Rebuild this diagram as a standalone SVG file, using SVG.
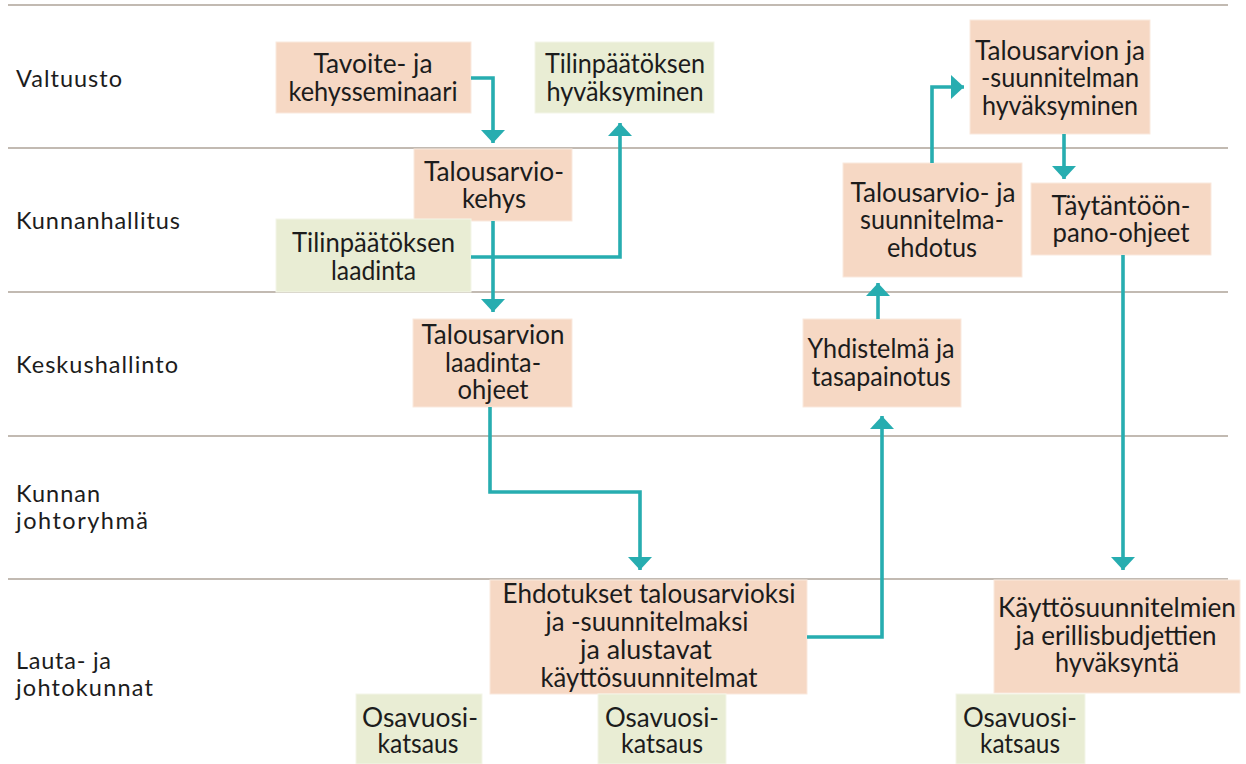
<svg xmlns="http://www.w3.org/2000/svg" width="1246" height="764" viewBox="0 0 1246 764">
  <style>
    .lane { stroke: #c2bab2; stroke-width: 1.8; }
    .lbl { font-family: Lato, "Open Sans", sans-serif; font-size: 23.5px; fill: #1c1c1c; }
    .t { font-family: Lato, "Open Sans", sans-serif; font-size: 26px; fill: #1c1c1c; text-anchor: middle; }
    .peach { fill: #f6d8c4; stroke: #fae9de; stroke-width: 1; }
    .green { fill: #e9edd4; stroke: #f3f5e8; stroke-width: 1; }
    .conn { fill: none; stroke: #27adb0; stroke-width: 3.6; stroke-linejoin: miter; }
  </style>
  <defs>
    <marker id="arrow" markerUnits="userSpaceOnUse" markerWidth="14" markerHeight="26" refX="13" refY="12" orient="auto">
      <path d="M0,0 L13,12 L0,24 Z" fill="#27adb0"/>
    </marker>
  </defs>
  <rect width="1246" height="764" fill="#ffffff"/>

  <!-- swimlane separators -->
  <g id="lanes">
    <line class="lane" x1="8" y1="5" x2="1228" y2="5"/>
    <line class="lane" x1="8" y1="148" x2="1228" y2="148"/>
    <line class="lane" x1="8" y1="292" x2="1228" y2="292"/>
    <line class="lane" x1="8" y1="436" x2="1228" y2="436"/>
    <line class="lane" x1="8" y1="579" x2="1228" y2="579"/>
  </g>

  <!-- lane titles -->
  <g id="lane-labels">
    <text class="lbl" x="16" y="87" textLength="106" lengthAdjust="spacing">Valtuusto</text>
    <text class="lbl" x="16" y="229" textLength="164" lengthAdjust="spacing">Kunnanhallitus</text>
    <text class="lbl" x="16" y="373" textLength="162" lengthAdjust="spacing">Keskushallinto</text>
    <text class="lbl" x="16" y="502" textLength="84" lengthAdjust="spacing">Kunnan</text>
    <text class="lbl" x="16" y="529" textLength="132" lengthAdjust="spacing">johtoryhmä</text>
    <text class="lbl" x="16" y="669" textLength="95" lengthAdjust="spacing">Lauta- ja</text>
    <text class="lbl" x="16" y="696" textLength="137" lengthAdjust="spacing">johtokunnat</text>
  </g>

  <!-- process steps -->
  <g id="tavoite">
    <rect class="peach" x="276" y="42" width="195" height="71"/>
    <text class="t" x="373" y="73" textLength="119" lengthAdjust="spacingAndGlyphs">Tavoite- ja</text>
    <text class="t" x="373" y="101" textLength="169" lengthAdjust="spacingAndGlyphs">kehysseminaari</text>
  </g>
  <g id="tp-hyvaksyminen">
    <rect class="green" x="535" y="42" width="179" height="71"/>
    <text class="t" x="625" y="73" textLength="160" lengthAdjust="spacingAndGlyphs">Tilinpäätöksen</text>
    <text class="t" x="625" y="101" textLength="157" lengthAdjust="spacingAndGlyphs">hyväksyminen</text>
  </g>
  <g id="ta-hyvaksyminen">
    <rect class="peach" x="970" y="20" width="180" height="114"/>
    <text class="t" x="1060" y="60" textLength="170" lengthAdjust="spacingAndGlyphs">Talousarvion ja</text>
    <text class="t" x="1060" y="87" textLength="158" lengthAdjust="spacingAndGlyphs">-suunnitelman</text>
    <text class="t" x="1060" y="115" textLength="156" lengthAdjust="spacingAndGlyphs">hyväksyminen</text>
  </g>
  <g id="kehys">
    <rect class="peach" x="414" y="149" width="158" height="72"/>
    <text class="t" x="494" y="181" textLength="140" lengthAdjust="spacingAndGlyphs">Talousarvio-</text>
    <text class="t" x="494" y="208" textLength="64" lengthAdjust="spacingAndGlyphs">kehys</text>
  </g>
  <g id="tp-laadinta">
    <rect class="green" x="276" y="219" width="195" height="73"/>
    <text class="t" x="373.5" y="252" textLength="163" lengthAdjust="spacingAndGlyphs">Tilinpäätöksen</text>
    <text class="t" x="373.5" y="280" textLength="85" lengthAdjust="spacingAndGlyphs">laadinta</text>
  </g>
  <g id="ehdotus">
    <rect class="peach" x="843" y="163" width="179" height="114"/>
    <text class="t" x="933" y="202" textLength="165" lengthAdjust="spacingAndGlyphs">Talousarvio- ja</text>
    <text class="t" x="932" y="229" textLength="144" lengthAdjust="spacingAndGlyphs">suunnitelma-</text>
    <text class="t" x="932" y="257" textLength="90" lengthAdjust="spacingAndGlyphs">ehdotus</text>
  </g>
  <g id="taytantoonpano">
    <rect class="peach" x="1031" y="183" width="180" height="72"/>
    <text class="t" x="1121" y="215" textLength="139" lengthAdjust="spacingAndGlyphs">Täytäntöön-</text>
    <text class="t" x="1121" y="242" textLength="137" lengthAdjust="spacingAndGlyphs">pano-ohjeet</text>
  </g>
  <g id="laadintaohjeet">
    <rect class="peach" x="413" y="319" width="159" height="88"/>
    <text class="t" x="493" y="344" textLength="143" lengthAdjust="spacingAndGlyphs">Talousarvion</text>
    <text class="t" x="493" y="372" textLength="96" lengthAdjust="spacingAndGlyphs">laadinta-</text>
    <text class="t" x="493" y="399" textLength="71" lengthAdjust="spacingAndGlyphs">ohjeet</text>
  </g>
  <g id="yhdistelma">
    <rect class="peach" x="803" y="319" width="158" height="88"/>
    <text class="t" x="881" y="358" textLength="147" lengthAdjust="spacingAndGlyphs">Yhdistelmä ja</text>
    <text class="t" x="881" y="386" textLength="139" lengthAdjust="spacingAndGlyphs">tasapainotus</text>
  </g>
  <g id="ehdotukset">
    <rect class="peach" x="490" y="580" width="317" height="114"/>
    <text class="t" x="649" y="603" textLength="293" lengthAdjust="spacingAndGlyphs">Ehdotukset talousarvioksi</text>
    <text class="t" x="647" y="631" textLength="203" lengthAdjust="spacingAndGlyphs">ja -suunnitelmaksi</text>
    <text class="t" x="646" y="659" textLength="132" lengthAdjust="spacingAndGlyphs">ja alustavat</text>
    <text class="t" x="649" y="687" textLength="217" lengthAdjust="spacingAndGlyphs">käyttösuunnitelmat</text>
  </g>
  <g id="kayttosuunnitelmat">
    <rect class="peach" x="994" y="580" width="246" height="113"/>
    <text class="t" x="1117" y="617" textLength="238" lengthAdjust="spacingAndGlyphs">Käyttösuunnitelmien</text>
    <text class="t" x="1116" y="645" textLength="201" lengthAdjust="spacingAndGlyphs">ja erillisbudjettien</text>
    <text class="t" x="1117" y="672" textLength="124" lengthAdjust="spacingAndGlyphs">hyväksyntä</text>
  </g>
  <g id="osavuosi-1">
    <rect class="green" x="356" y="694" width="126" height="70"/>
    <text class="t" x="420" y="727" textLength="116" lengthAdjust="spacingAndGlyphs">Osavuosi-</text>
    <text class="t" x="418" y="753" textLength="81" lengthAdjust="spacingAndGlyphs">katsaus</text>
  </g>
  <g id="osavuosi-2">
    <rect class="green" x="598" y="694" width="128" height="70"/>
    <text class="t" x="662" y="727" textLength="114" lengthAdjust="spacingAndGlyphs">Osavuosi-</text>
    <text class="t" x="662" y="753" textLength="82" lengthAdjust="spacingAndGlyphs">katsaus</text>
  </g>
  <g id="osavuosi-3">
    <rect class="green" x="956" y="694" width="129" height="70"/>
    <text class="t" x="1020" y="727" textLength="114" lengthAdjust="spacingAndGlyphs">Osavuosi-</text>
    <text class="t" x="1020" y="753" textLength="80" lengthAdjust="spacingAndGlyphs">katsaus</text>
  </g>

  <!-- flow connectors -->
  <g id="connectors">
    <path class="conn" d="M471,78 H493 V143" marker-end="url(#arrow)"/>
    <path class="conn" d="M493,221 V312" marker-end="url(#arrow)"/>
    <path class="conn" d="M471,257 H620 V123" marker-end="url(#arrow)"/>
    <path class="conn" d="M490,407 V492 H640 V570" marker-end="url(#arrow)"/>
    <path class="conn" d="M807,637 H882 V416" marker-end="url(#arrow)"/>
    <path class="conn" d="M878,319 V283" marker-end="url(#arrow)"/>
    <path class="conn" d="M932,163 V87 H964" marker-end="url(#arrow)"/>
    <path class="conn" d="M1064,134 V179" marker-end="url(#arrow)"/>
    <path class="conn" d="M1123,255 V570" marker-end="url(#arrow)"/>
  </g>
</svg>
